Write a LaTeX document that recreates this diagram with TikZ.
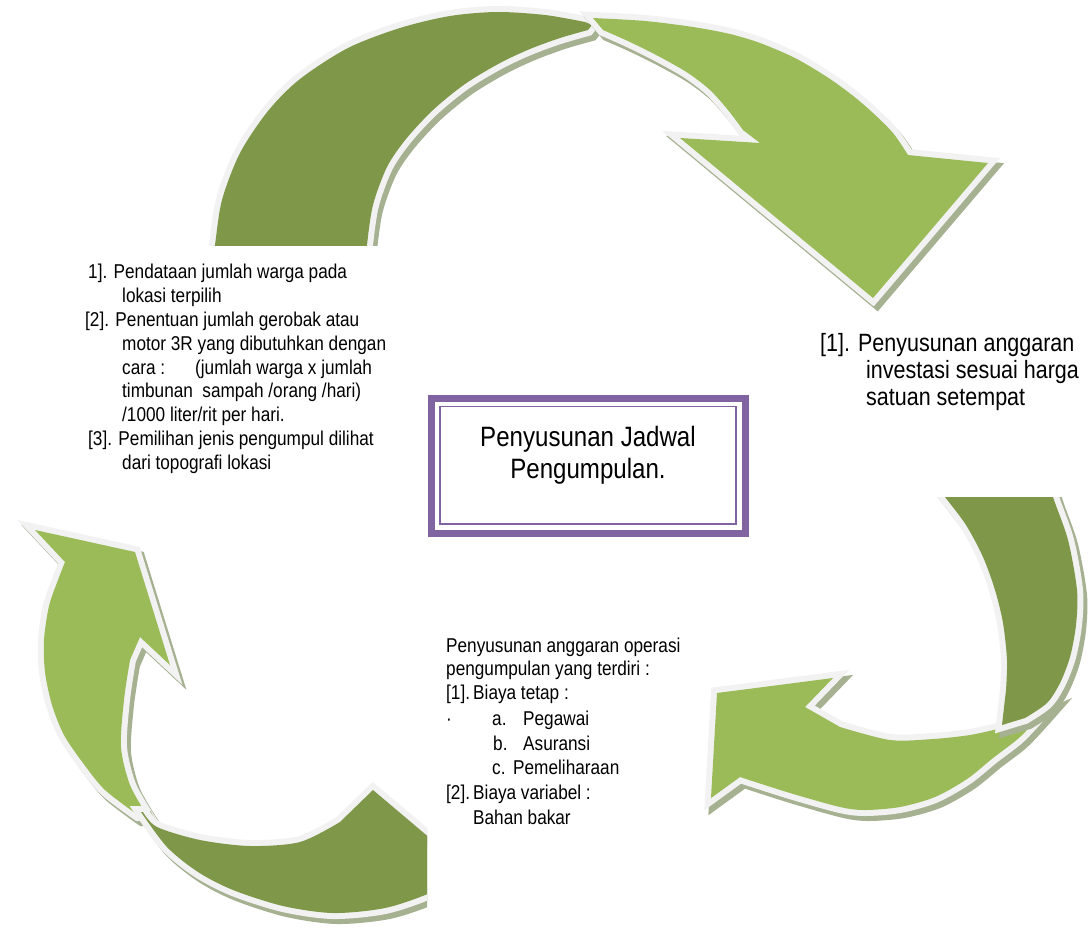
\documentclass[tikz,border=0pt]{standalone}
\usepackage{fontspec}
\setmainfont{Liberation Sans}[FakeStretch=0.86]
\definecolor{leafdark}{RGB}{127,151,72}
\definecolor{leaflight}{RGB}{155,187,89}
\definecolor{rim}{RGB}{242,242,242}
\definecolor{shade}{RGB}{166,177,146}
\definecolor{frame}{RGB}{128,100,162}

% one piece of a curved arrow band: drop shadow, light rim, coloured body
\newcommand\bandpiece[2]{%
  \path[fill=shade, draw=shade, line width=12pt, shift={(4,5)}] #2;
  \path[draw=rim, line width=12pt] #2;
  \path[fill=#1] #2;}

\begin{document}
\begin{tikzpicture}[x=1pt, y=-1pt, line join=miter,
  body/.style={anchor=base west, inner sep=0pt, font=\fontsize{20}{24}\selectfont},
  side/.style={anchor=base west, inner sep=0pt, font=\fontsize{25}{28}\selectfont},
  title/.style={anchor=base, inner sep=0pt, font=\fontsize{28}{31}\selectfont}]
\useasboundingbox[fill=white] (0,0) rectangle (1089,927);

% ---- upper arrow (tail, then head) ----
\begin{scope}
  \clip (0,0) rectangle (1089,245);
  \bandpiece{leafdark}{plot[smooth] coordinates {(211,275) (215,245) (222,200) (240,153) (268,111) (300,79) (348,48) (400,28) (450,16) (497,12) (545,15) (585,22)} -- (592,25)
    -- plot[smooth] coordinates {(588,30) (560,38) (530,49) (500,63) (465,84) (433,110) (406,139) (387,167) (373,205) (367,245) (365,275)} -- cycle}
\end{scope}
\bandpiece{leaflight}{plot[smooth] coordinates {(593,18) (645,21) (693,27) (730,34) (760,43) (795,58) (827,77) (852,95) (873,113) (893,133) (908,155)}
  -- (988,163) -- (873,298) -- (680,138) -- (760,143)
  -- plot[smooth] coordinates {(743,130) (728,110) (710,90) (688,73) (660,57) (630,42) (603,30)} -- cycle}

% ---- right arrow (head, then tail) ----
\bandpiece{leaflight}{plot[smooth] coordinates {(1046,709) (1020,737) (993,758) (967,779) (935,797) (900,807) (865,810) (840,807) (790,793) (740,777)}
  -- (711,798) -- (717,693) -- (833,678) -- (805,707)
  -- plot[smooth] coordinates {(840,727) (890,740) (933,739) (970,735) (1002,728)} -- cycle}
\begin{scope}
  \clip (0,497) rectangle (1089,927);
  \bandpiece{leafdark}{plot[smooth] coordinates {(1046,470) (1053,497) (1068,540) (1077,590) (1076,625) (1070,657) (1060,683) (1047,703) (1025,718)} -- (1002,725)
    -- plot[smooth] coordinates {(1006,690) (1007,660) (1003,623) (995,590) (983,557) (966,525) (945,497) (928,475)} -- cycle}
\end{scope}

% ---- left arrow (head, then tail) ----
\bandpiece{leaflight}{(35,530) -- (135,552) -- (170,665) -- (140,637)
  -- plot[smooth] coordinates {(130,660) (124,700) (121,747) (130,785) (147,815)}
  -- plot[smooth] coordinates {(138,815) (105,790) (83,763) (64,735) (52,705) (45,672) (44,640) (49,606) (58,580) (65,562)} -- cycle}
\begin{scope}
  \clip (0,0) rectangle (427,927);
  \bandpiece{leafdark}{plot[smooth] coordinates {(141,812) (167,847) (198,872) (233,890) (283,906) (333,913) (385,908) (430,893) (470,872)} -- (373,790)
    -- plot[smooth] coordinates {(340,822) (300,842) (250,846) (200,840) (157,827) (143,812)} -- cycle}
\end{scope}

% ---- central framed title ----
\node[draw=frame, line width=7pt, minimum width=313.3pt, minimum height=134.8pt, inner sep=0pt, outer sep=0pt] (outerframe) at (588.35,465.9) {};
\node[draw=frame, line width=1.5pt, minimum width=296pt, minimum height=117.3pt, inner sep=0pt, outer sep=0pt] (innerframe) at (588,465.35) {};
\node[title] (title1) at (588,446.7) {Penyusunan Jadwal};
\node[title] (title2) at (588,478) {Pengumpulan.};

% ---- upper-left notes ----
\node[body] (tl1) at (88,278) {1]. Pendataan jumlah warga pada};
\node[body] (tl2) at (122,302) {lokasi terpilih};
\node[body] (tl3) at (85,326) {[2]. Penentuan jumlah gerobak atau};
\node[body] (tl4) at (122,350) {motor 3R yang dibutuhkan dengan};
\node[body] (tl5) at (122,374) {\makebox[73pt][l]{cara :}(jumlah warga x jumlah};
\node[body] (tl6) at (122,397) {timbunan\ \ sampah /orang /hari)};
\node[body] (tl7) at (122,421) {/1000 liter/rit per hari.};
\node[body] (tl8) at (88,445) {[3]. Pemilihan jenis pengumpul dilihat};
\node[body] (tl9) at (122,469) {dari topografi lokasi};

% ---- right notes ----
\node[side] (rt1) at (820,351) {[1]. Penyusunan anggaran};
\node[side] (rt2) at (866,378) {investasi sesuai harga};
\node[side] (rt3) at (866,405) {satuan setempat};

% ---- lower notes ----
\node[body] (bt1) at (446,652) {Penyusunan anggaran operasi};
\node[body] (bt2) at (446,675) {pengumpulan yang terdiri :};
\node[body] (bt3) at (446,699) {\makebox[27pt][l]{[1].}Biaya tetap :};
\node[body] (bt4) at (446,725) {\makebox[46pt][l]{·}\makebox[31pt][l]{a.}Pegawai};
\node[body] (bt5) at (493,750) {\makebox[30pt][l]{b.}Asuransi};
\node[body] (bt6) at (492,774) {\makebox[21pt][l]{c.}Pemeliharaan};
\node[body] (bt7) at (446,799) {\makebox[27pt][l]{[2].}Biaya variabel :};
\node[body] (bt8) at (473,824) {Bahan bakar};
\end{tikzpicture}
\end{document}
